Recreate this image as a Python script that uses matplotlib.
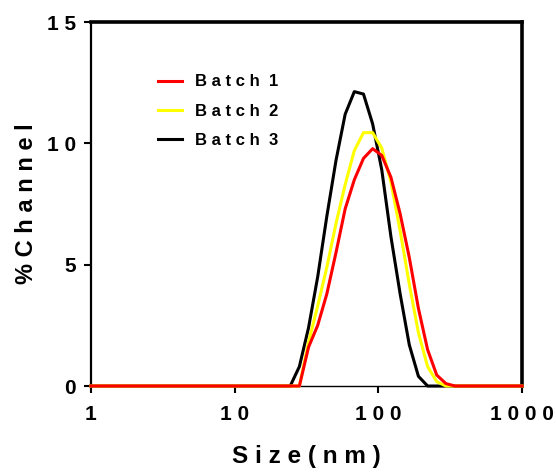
import matplotlib
matplotlib.use('Agg')
import matplotlib.pyplot as plt

plt.rcParams['font.family'] = ['Liberation Sans', 'DejaVu Sans']
plt.rcParams['font.weight'] = 'bold'

# Size bins (nm)
sizes = [1.0, 21.04, 24.36, 28.21, 32.67, 37.84, 43.82, 50.75, 58.77, 68.06,
         78.82, 91.28, 105.7, 122.4, 141.8, 164.2, 190.1, 220.2, 255.0,
         295.3, 342.0, 396.1, 1000.0]

# % channel for each batch
batch1 = [0, 0, 0, 0, 1.6, 2.5, 3.8, 5.5, 7.3, 8.5,
          9.38, 9.78, 9.5, 8.6, 7.1, 5.3, 3.2, 1.5, 0.45,
          0.1, 0, 0, 0]
batch2 = [0, 0, 0, 0, 1.8, 3.3, 4.9, 6.7, 8.3, 9.7,
          10.44, 10.44, 9.8, 8.4, 6.4, 4.2, 2.2, 0.8, 0.18,
          0, 0, 0, 0]
batch3 = [0, 0, 0, 0.8, 2.4, 4.5, 7.0, 9.3, 11.2, 12.13,
          12.03, 10.8, 8.9, 6.15, 3.8, 1.7, 0.4, 0, 0,
          0, 0, 0, 0]

labels = ['B a t c h  1', 'B a t c h  2', 'B a t c h  3']
colors = ['#ff0000', '#ffff00', '#000000']

xticks = [1, 10, 100, 1000]
xticklabels = ['1', '1 0', '1 0 0', '1 0 0 0']
yticks = [0, 5, 10, 15]
yticklabels = ['0', '5', '1 0', '1 5']

fig = plt.figure(figsize=(5.56, 4.74), dpi=100)
ax = fig.add_axes([91 / 556, 88 / 474, 431 / 556, 364 / 474])

series = [batch1, batch2, batch3]
zorders = [5, 4, 3]
for vals, lab, col, z in zip(series, labels, colors, zorders):
    ax.plot(sizes, vals, color=col, lw=2.2, label=lab, zorder=z, clip_on=False)

ax.set_xscale('log')
ax.set_xlim(1, 1000)
ax.set_ylim(0, 15)
ax.set_xticks(xticks)
ax.set_xticklabels(xticklabels, fontsize=15, fontweight='bold')
ax.set_yticks(yticks)
ax.set_yticklabels(yticklabels, fontsize=15, fontweight='bold')
ax.minorticks_off()
ax.tick_params(direction='out', length=5, width=1.5, pad=6)
ax.tick_params(axis='x', pad=9)

ax.spines['left'].set_linewidth(1.6)
ax.spines['bottom'].set_linewidth(1.0)
ax.spines['top'].set_linewidth(2.6)
ax.spines['right'].set_linewidth(2.6)

ax.set_xlabel('S i z e ( n m )', fontsize=17.5, fontweight='bold', labelpad=15)
ax.set_ylabel('% C h a n n e l', fontsize=17, fontweight='bold', labelpad=6)

ax.legend(loc='upper left', bbox_to_anchor=(0.155, 0.856), frameon=False,
          fontsize=12, handlelength=1.45, handletextpad=0.8,
          labelspacing=0.85, borderpad=0, borderaxespad=0)

fig.savefig('out.png', dpi=100)
